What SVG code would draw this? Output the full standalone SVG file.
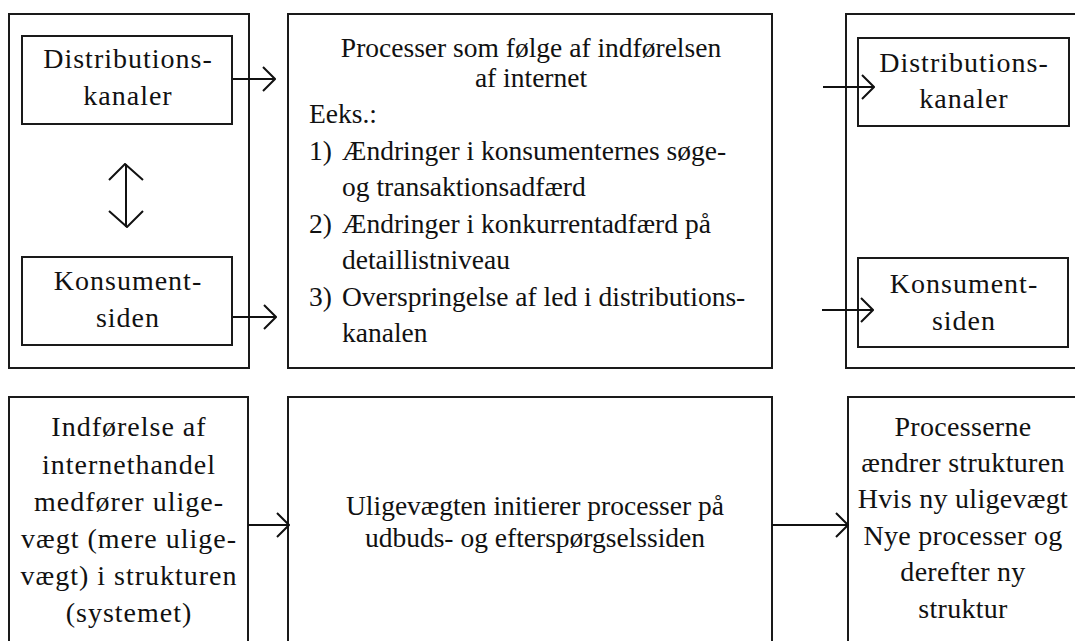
<svg xmlns="http://www.w3.org/2000/svg" width="1075" height="641" viewBox="0 0 1075 641">
<style>
.box{fill:#fff;stroke:#1a1a1a;stroke-width:2}
.t{font-family:"Liberation Serif","Times New Roman",serif;font-size:27.5px;fill:#111}
.s{font-size:28px;letter-spacing:1px}
.r{font-size:28px;letter-spacing:0.3px}
.c{text-anchor:middle}
.con{fill:none;stroke:#111;stroke-width:2}
</style>
<defs>
<marker id="ah" viewBox="0 0 14 26" refX="13" refY="13" markerWidth="14" markerHeight="26" markerUnits="userSpaceOnUse" orient="auto-start-reverse">
<path d="M1,1 L13,13 L1,25" fill="none" stroke="#111" stroke-width="2"/>
</marker>
<marker id="ah2" viewBox="0 0 18 36" refX="17" refY="18" markerWidth="18" markerHeight="36" markerUnits="userSpaceOnUse" orient="auto-start-reverse">
<path d="M1,1 L17,17 L1,35" fill="none" stroke="#111" stroke-width="2"/>
</marker>
</defs>
<rect width="1075" height="641" fill="#fff"/>

<g id="left-top">
<rect class="box" x="9" y="14" width="240" height="354"/>
</g>
<g id="dist-left">
<rect class="box" x="22" y="36" width="210" height="88"/>
<text class="t s c" x="128" y="68">Distributions-</text>
<text class="t s c" x="128" y="105">kanaler</text>
</g>
<g id="kons-left">
<rect class="box" x="22" y="257" width="210" height="88"/>
<text class="t s c" x="128" y="290">Konsument-</text>
<text class="t s c" x="128" y="327">siden</text>
</g>

<g id="middle-top">
<rect class="box" x="288" y="14" width="484" height="354"/>
<text class="t c" x="531" y="57">Processer som følge af indførelsen</text>
<text class="t c" x="531" y="87">af internet</text>
<text class="t" x="309" y="123">Eeks.:</text>
<text class="t" x="309" y="160">1)</text>
<text class="t" x="342" y="160">Ændringer i konsumenternes søge-</text>
<text class="t" x="342" y="196">og transaktionsadfærd</text>
<text class="t" x="309" y="233">2)</text>
<text class="t" x="342" y="233">Ændringer i konkurrentadfærd på</text>
<text class="t" x="342" y="269">detaillistniveau</text>
<text class="t" x="309" y="306">3)</text>
<text class="t" x="342" y="306">Overspringelse af led i distributions-</text>
<text class="t" x="342" y="342">kanalen</text>
</g>

<g id="right-top">
<rect class="box" x="846" y="14" width="241" height="354"/>
</g>
<g id="dist-right">
<rect class="box" x="858" y="38" width="211" height="88"/>
<text class="t s c" x="964" y="72">Distributions-</text>
<text class="t s c" x="964" y="108">kanaler</text>
</g>
<g id="kons-right">
<rect class="box" x="858" y="258" width="210" height="89"/>
<text class="t s c" x="964" y="293">Konsument-</text>
<text class="t s c" x="964" y="330">siden</text>
</g>

<g id="left-bottom">
<rect class="box" x="9" y="397" width="239" height="270"/>
<text class="t s c" x="129" y="436">Indførelse af</text>
<text class="t s c" x="129" y="474">internethandel</text>
<text class="t s c" x="129" y="511">medfører ulige-</text>
<text class="t s c" x="129" y="548">vægt (mere ulige-</text>
<text class="t s c" x="129" y="585">vægt) i strukturen</text>
<text class="t s c" x="129" y="622">(systemet)</text>
</g>

<g id="middle-bottom">
<rect class="box" x="288" y="397" width="484" height="270"/>
<text class="t c" x="535" y="515">Uligevægten initierer processer på</text>
<text class="t c" x="535" y="547">udbuds- og efterspørgselssiden</text>
</g>

<g id="right-bottom">
<rect class="box" x="848" y="397" width="239" height="270"/>
<text class="t r c" x="963" y="436">Processerne</text>
<text class="t r c" x="963" y="472">ændrer strukturen</text>
<text class="t r c" x="963" y="508">Hvis ny uligevægt</text>
<text class="t r c" x="963" y="545">Nye processer og</text>
<text class="t r c" x="963" y="581">derefter ny</text>
<text class="t r c" x="963" y="618">struktur</text>
</g>

<g id="connectors">
<line class="con" x1="126" y1="164" x2="126" y2="227" marker-start="url(#ah2)" marker-end="url(#ah2)"/>
<line class="con" x1="233" y1="79" x2="275" y2="79" marker-end="url(#ah)"/>
<line class="con" x1="233" y1="317" x2="276" y2="317" marker-end="url(#ah)"/>
<line class="con" x1="823" y1="87" x2="874" y2="87" marker-end="url(#ah)"/>
<line class="con" x1="822" y1="310" x2="873" y2="310" marker-end="url(#ah)"/>
<line class="con" x1="248" y1="525" x2="289" y2="525" marker-end="url(#ah)"/>
<line class="con" x1="772" y1="525" x2="848" y2="525" marker-end="url(#ah)"/>
</g>
</svg>
